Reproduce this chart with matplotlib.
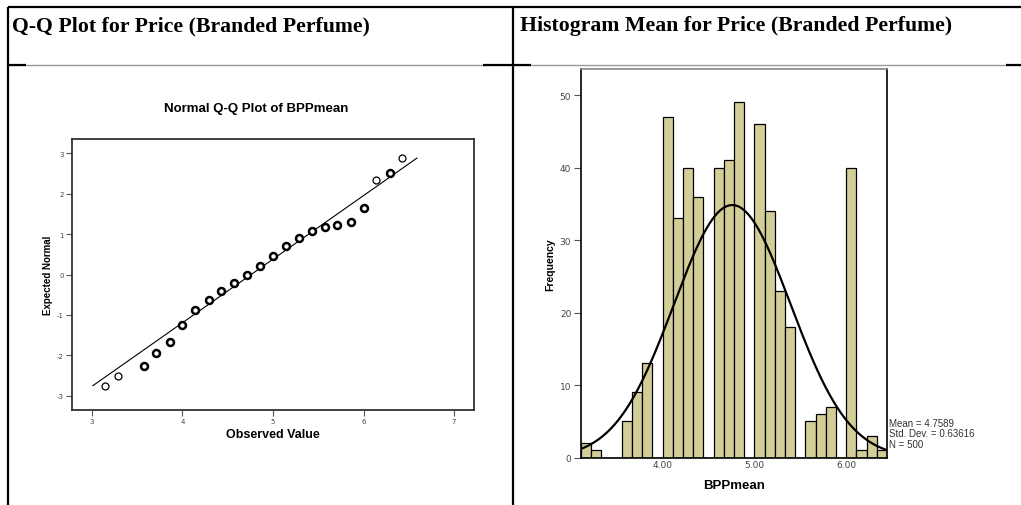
import numpy as np
import matplotlib
matplotlib.use("Agg")
import matplotlib.pyplot as plt

plt.rcParams["axes.unicode_minus"] = False

# header cells of the table
left_header = "Q-Q Plot for Price (Branded Perfume)"
right_header = "Histogram Mean for Price (Branded Perfume)"

# Q-Q plot data (observed value vs expected normal)
qq_observed = [3.14, 3.29, 3.57, 3.71, 3.86, 4.00, 4.14, 4.29, 4.43, 4.57, 4.71, 4.86,
               5.00, 5.14, 5.29, 5.43, 5.57, 5.71, 5.86, 6.00, 6.14, 6.29, 6.43]
qq_expected = [-2.76, -2.52, -2.27, -1.95, -1.68, -1.24, -0.88, -0.64, -0.41, -0.22, -0.01, 0.22,
               0.46, 0.70, 0.91, 1.07, 1.17, 1.23, 1.30, 1.64, 2.34, 2.52, 2.89]
qq_line_x = [3.01, 6.59]
qq_xticks = [3, 4, 5, 6, 7]
qq_yticks = [-3, -2, -1, 0, 1, 2, 3]

# histogram of BPPmean (30 bins of width 1/9)
hist_counts = [2, 1, 0, 0, 5, 9, 13, 0, 47, 33, 40, 36, 0, 40, 41, 49, 0, 46, 34, 23,
               18, 0, 5, 6, 7, 0, 40, 1, 3, 1]
hist_lo, hist_hi = 28 / 9, 58 / 9
hist_xticks = [4.0, 5.0, 6.0]
hist_yticks = [0, 10, 20, 30, 40, 50]
bpp_mean = 4.7589
bpp_sd = 0.63616
bpp_n = 500

W, H = 1021, 506
fig = plt.figure(figsize=(W / 100, H / 100), dpi=100)

# table lines drawn in pixel space on a background axes
bg = fig.add_axes([0, 0, 1, 1], zorder=0)
bg.set_xlim(0, W)
bg.set_ylim(H, 0)
bg.axis("off")
bg.plot([8, W], [8, 8], color="black", lw=1.6, solid_capstyle="butt")
bg.plot([8, 8], [8, H], color="black", lw=1.6, solid_capstyle="butt")
bg.plot([513, 513], [8, H], color="black", lw=1.6, solid_capstyle="butt")
bg.plot([8, W], [66, 66], color="#9a9a9a", lw=1.0, solid_capstyle="butt")
for x0, x1 in [(8, 26), (483, 531), (1006, W)]:
    bg.plot([x0, x1], [66, 66], color="black", lw=1.6, solid_capstyle="butt")

bg.text(12, 26, left_header, family="Liberation Serif", weight="bold",
        fontsize=15.7, va="center", ha="left")
bg.text(520, 26, right_header, family="Liberation Serif", weight="bold",
        fontsize=15.7, va="center", ha="left")

narrow = ["Liberation Sans Narrow", "Liberation Sans", "DejaVu Sans"]
sans = ["Liberation Sans", "DejaVu Sans"]

# ---------------- Q-Q plot ----------------
ax = fig.add_axes([72 / W, 1 - 411 / H, (474 - 72) / W, (411 - 140) / H], zorder=1)
ax.set_xlim(2.78, 7.22)
ax.set_ylim(-3.35, 3.35)
lx = np.array(qq_line_x)
ax.plot(lx, (lx - bpp_mean) / bpp_sd, color="black", lw=0.8)
thin = {0, 1, 20, 22}
for i, (xv, yv) in enumerate(zip(qq_observed, qq_expected)):
    ax.plot(xv, yv, "o", mfc="white", mec="black", ms=5,
            mew=0.9 if i in thin else 1.8)
ax.set_xticks(qq_xticks)
ax.set_yticks(qq_yticks)
ax.tick_params(length=4, width=0.8, color="#555555", labelsize=5,
               labelcolor="#444444", pad=2)
for s in ax.spines.values():
    s.set_linewidth(1.3)
    s.set_color("#333333")
ax.set_xlabel("Observed Value", family=sans, weight="bold", fontsize=9, labelpad=3)
ax.set_ylabel("Expected Normal", family=narrow, weight="bold", fontsize=7, labelpad=3)
bg.text(256, 109, "Normal Q-Q Plot of BPPmean", family=sans, weight="bold",
        fontsize=9.5, ha="center", va="center")

# ---------------- histogram ----------------
hx = fig.add_axes([581 / W, 1 - 458.7 / H, (887 - 581) / W, (458.7 - 70) / H], zorder=1)
edges = np.linspace(hist_lo, hist_hi, len(hist_counts) + 1)
hx.bar(edges[:-1], hist_counts, width=np.diff(edges), align="edge",
       color="#d3ce98", edgecolor="black", linewidth=0.9)
hx.set_xlim(hist_lo, hist_hi)
hx.set_ylim(0, 53.6)
xs = np.linspace(hist_lo, hist_hi, 300)
bw = (hist_hi - hist_lo) / len(hist_counts)
curve = bpp_n * bw * np.exp(-0.5 * ((xs - bpp_mean) / bpp_sd) ** 2) / (bpp_sd * np.sqrt(2 * np.pi))
hx.plot(xs, curve, color="black", lw=1.6)
hx.set_xticks(hist_xticks)
hx.set_xticklabels([f"{v:.2f}" for v in hist_xticks])
hx.set_yticks(hist_yticks)
hx.tick_params(length=5, width=0.8, color="#555555", labelsize=6.5,
               labelcolor="#444444", pad=2)
hx.tick_params(axis="x", length=0)
for s in hx.spines.values():
    s.set_linewidth(1.2)
    s.set_color("black")
hx.spines["top"].set_color("#888888")
hx.set_xlabel("BPPmean", family=sans, weight="bold", fontsize=9.5, labelpad=7)
hx.set_ylabel("Frequency", family=narrow, weight="bold", fontsize=7.5, labelpad=3)

stats = [f"Mean = {bpp_mean}", f"Std. Dev. = {bpp_sd}", f"N = {bpp_n}"]
for k, line in enumerate(stats):
    bg.text(889, 424 + k * 10.5, line, family=sans, fontsize=7,
            color="#333333", ha="left", va="center")

fig.savefig("out.png", dpi=100)
